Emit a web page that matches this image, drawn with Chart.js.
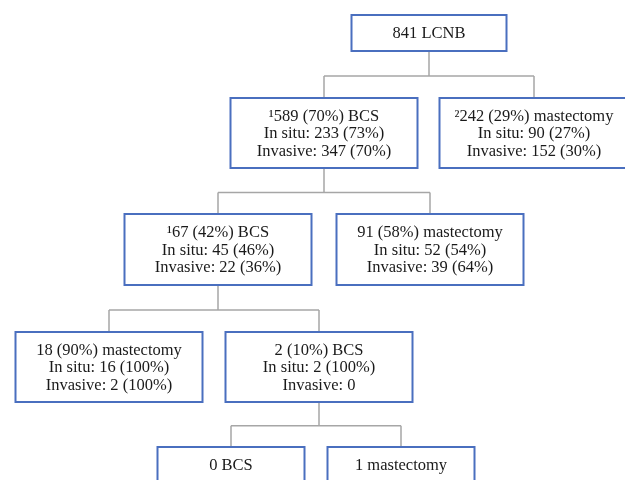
<!DOCTYPE html>
<html lang="en">
<head>
  <meta charset="UTF-8">
  <title>LCNB flowchart</title>
  <script src="https://cdn.jsdelivr.net/npm/chart.js"></script>
  <style>
    html, body { margin: 0; padding: 0; background: #fff; }
    canvas { display: block; }
  </style>
</head>
<body>
<canvas id="flow" width="625" height="480"></canvas>
<script>
  // node texts and tree structure
  const nodeLabels = [
    ['841 LCNB'],
    ['\u00b9589 (70%) BCS', 'In situ: 233 (73%)', 'Invasive: 347 (70%)'],
    ['\u00b2242 (29%) mastectomy', 'In situ: 90 (27%)', 'Invasive: 152 (30%)'],
    ['\u00b967 (42%) BCS', 'In situ: 45 (46%)', 'Invasive: 22 (36%)'],
    ['91 (58%) mastectomy', 'In situ: 52 (54%)', 'Invasive: 39 (64%)'],
    ['18 (90%) mastectomy', 'In situ: 16 (100%)', 'Invasive: 2 (100%)'],
    ['2 (10%) BCS', 'In situ: 2 (100%)', 'Invasive: 0'],
    ['0 BCS'],
    ['1 mastectomy']
  ];
  const nodeParent = [-1, 0, 0, 1, 1, 3, 3, 6, 6];
  const nodeRow = [0, 1, 1, 2, 2, 3, 3, 4, 4];

  // layout (scale units)
  const nodeX = [429, 324, 534, 218, 430, 109, 319, 231, 401];
  const nodeW = [155, 187, 189, 187, 187, 187, 187, 147, 147];
  const rowTop = [15, 98, 214, 332, 447];
  const rowH = [36, 70, 71, 70, 36];

  const boxPlugin = {
    id: 'boxes',
    afterDatasetsDraw(chart) {
      const ctx = chart.ctx;
      const xs = chart.scales.x, ys = chart.scales.y;
      const top = i => ys.getPixelForValue(rowTop[nodeRow[i]]);
      const bottom = i => ys.getPixelForValue(rowTop[nodeRow[i]] + rowH[nodeRow[i]]);
      ctx.save();

      // connectors
      ctx.strokeStyle = '#a6a6a6';
      ctx.lineWidth = 1.5;
      nodeLabels.forEach((_, p) => {
        const kids = nodeParent.map((q, i) => q === p ? i : -1).filter(i => i >= 0);
        if (!kids.length) return;
        const px = xs.getPixelForValue(nodeX[p]);
        const pb = bottom(p);
        const midY = pb + (top(kids[0]) - pb) * 0.53;
        ctx.beginPath();
        ctx.moveTo(px, pb);
        ctx.lineTo(px, midY);
        const kx = kids.map(k => xs.getPixelForValue(nodeX[k]));
        ctx.moveTo(Math.min(...kx), midY);
        ctx.lineTo(Math.max(...kx), midY);
        kids.forEach((k, j) => {
          ctx.moveTo(kx[j], midY);
          ctx.lineTo(kx[j], top(k));
        });
        ctx.stroke();
      });

      // boxes and text
      nodeLabels.forEach((lines, i) => {
        const cx = xs.getPixelForValue(nodeX[i]);
        const w = nodeW[i];
        const t = top(i), b = bottom(i);
        ctx.fillStyle = '#ffffff';
        ctx.fillRect(cx - w / 2, t, w, b - t);
        ctx.strokeStyle = '#4a6fbf';
        ctx.lineWidth = 2;
        ctx.strokeRect(cx - w / 2, t, w, b - t);

        ctx.fillStyle = '#1a1a1a';
        ctx.font = '16.5px "Liberation Serif", "Times New Roman", serif';
        ctx.textAlign = 'center';
        ctx.textBaseline = 'middle';
        const lh = 17.5;
        const mid = (t + b) / 2 + 1;
        lines.forEach((s, j) => {
          ctx.fillText(s, cx, mid + (j - (lines.length - 1) / 2) * lh);
        });
      });
      ctx.restore();
    }
  };

  new Chart(document.getElementById('flow'), {
    type: 'scatter',
    data: {
      datasets: [{
        data: nodeLabels.map((_, i) => ({ x: nodeX[i], y: rowTop[nodeRow[i]] + rowH[nodeRow[i]] / 2 })),
        pointRadius: 0
      }]
    },
    options: {
      responsive: false,
      animation: false,
      devicePixelRatio: 1,
      layout: { padding: 0 },
      plugins: { legend: { display: false }, tooltip: { enabled: false } },
      scales: {
        x: { type: 'linear', min: 0, max: 625, display: false },
        y: { type: 'linear', min: 0, max: 480, reverse: true, display: false }
      }
    },
    plugins: [boxPlugin]
  });
</script>
</body>
</html>
